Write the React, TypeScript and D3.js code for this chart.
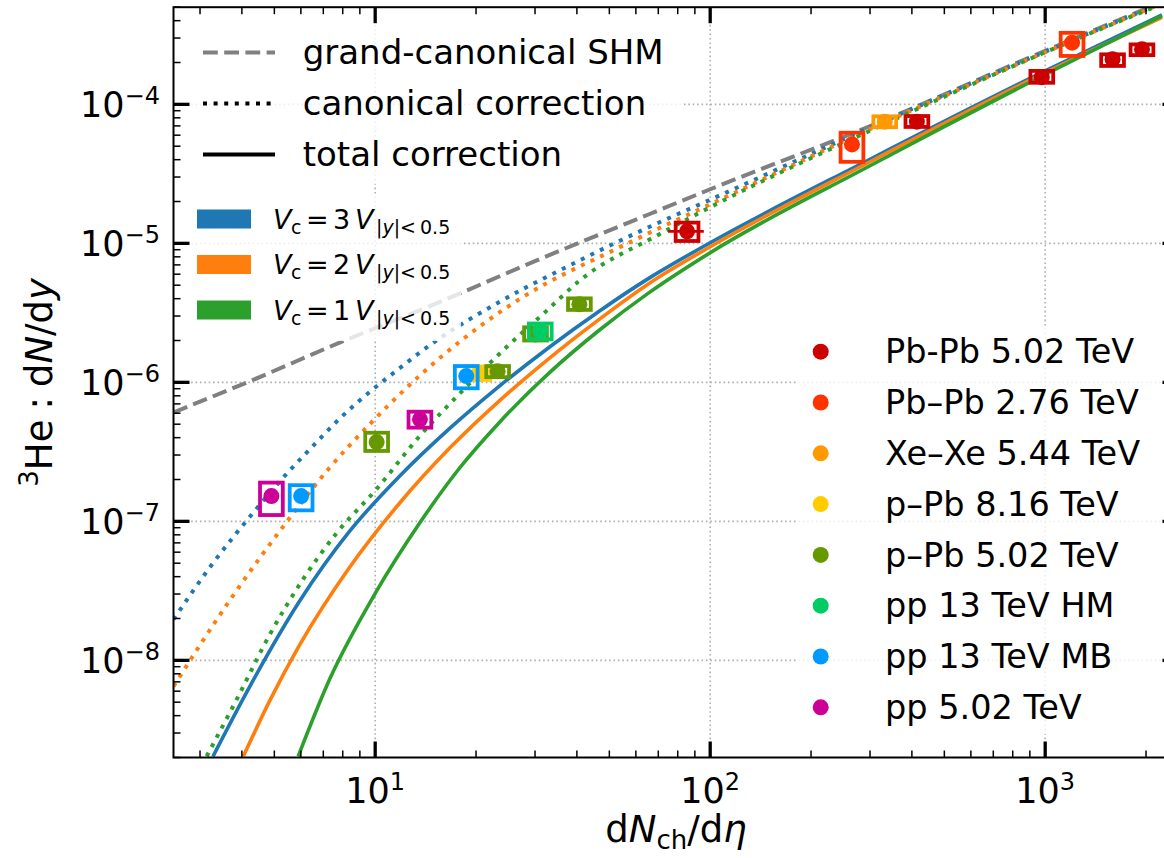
import React from "react";
import * as d3 from "d3";

// ---------------- data ----------------
const X_DOMAIN: [number, number] = [2.5, 2500];
const Y_DOMAIN: [number, number] = [2e-9, 5e-4];
const X_TICKS = [10, 100, 1000];
const X_TICK_EXP = ["1", "2", "3"];
const Y_TICKS = [1e-8, 1e-7, 1e-6, 1e-5, 1e-4];
const Y_TICK_EXP = ["\u22128", "\u22127", "\u22126", "\u22125", "\u22124"];

// grand-canonical SHM
const GC_SHM: [number, number][] = [
  [2.5, 6.08e-7], [4.23, 1.02e-6], [7.83, 1.93e-6], [15.0, 3.64e-6], [30.1, 7.48e-6],
  [65.7, 1.62e-5], [100, 2.45e-5], [299, 6.95e-5], [1000, 2.43e-4], [2232, 5.45e-4],
];
// canonical correction (dotted)
const CAN_VC3: [number, number][] = [
  [2.5, 1.97e-8], [3.21, 4.67e-8], [4.37, 1.19e-7], [5.25, 2.0e-7], [6.45, 3.39e-7],
  [7.83, 5.48e-7], [9.84, 8.91e-7], [11.56, 1.21e-6], [14.69, 1.88e-6], [23.48, 3.79e-6],
  [37.95, 6.92e-6], [65.7, 1.31e-5], [100, 2.06e-5], [299, 6.79e-5], [1000, 2.39e-4], [2232, 5.37e-4],
];
const CAN_VC2: [number, number][] = [
  [2.5, 6.5e-9], [3.68, 2.7e-8], [5.56, 1.06e-7], [7.31, 2.43e-7], [9.84, 5.27e-7],
  [15.91, 1.56e-6], [26.93, 3.96e-6], [53.5, 9.35e-6], [100, 1.91e-5], [299, 6.61e-5],
  [1000, 2.37e-4], [2232, 5.33e-4],
];
const CAN_VC1: [number, number][] = [
  [3.14, 2.04e-9], [3.86, 5.24e-9], [4.85, 1.54e-8], [6.09, 3.83e-8], [7.66, 8.2e-8],
  [10.08, 1.7e-7], [13.56, 4.09e-7], [18.05, 8.51e-7], [24.58, 1.78e-6], [32.34, 3.24e-6],
  [40.63, 5.36e-6], [70.37, 1.16e-5], [100, 1.82e-5], [299, 6.43e-5], [1000, 2.37e-4], [2232, 5.28e-4],
];
// total correction (solid)
const TOT_VC3: [number, number][] = [
  [3.28, 2.04e-9], [4.23, 6.53e-9], [5.95, 2.67e-8], [8.39, 8.49e-8], [11.82, 2.11e-7],
  [16.66, 4.64e-7], [23.48, 9.39e-7], [33.08, 1.79e-6], [46.63, 3.25e-6], [65.7, 5.62e-6],
  [100, 1.01e-5], [299, 4.01e-5], [1000, 1.74e-4], [2232, 4.4e-4],
];
const TOT_VC2: [number, number][] = [
  [4.04, 2.04e-9], [4.85, 5.15e-9], [5.95, 1.29e-8], [8.39, 4.67e-8], [11.82, 1.35e-7],
  [16.66, 3.35e-7], [23.48, 7.36e-7], [33.08, 1.49e-6], [46.63, 2.84e-6], [65.7, 5.15e-6],
  [100, 9.45e-6], [299, 3.85e-5], [1000, 1.69e-4], [2232, 4.23e-4],
];
const TOT_VC1: [number, number][] = [
  [5.89, 2.04e-9], [7.31, 7.3e-9], [10.08, 3.13e-8], [13.56, 9.68e-8], [17.84, 2.41e-7],
  [23.48, 5.15e-7], [33.08, 1.17e-6], [46.63, 2.37e-6], [65.7, 4.42e-6], [100, 8.57e-6],
  [299, 3.6e-5], [1000, 1.64e-4], [2232, 4.33e-4],
];

// measurements: x, y, systematic box [lo, hi]
type Pt = { x: number; y: number; lo: number; hi: number };
const PBPB_502: Pt[] = [
  { x: 85.3, y: 1.22e-5, lo: 1.04e-5, hi: 1.41e-5 },
  { x: 414, y: 7.51e-5, lo: 6.88e-5, hi: 8.24e-5 },
  { x: 977, y: 1.57e-4, lo: 1.43e-4, hi: 1.74e-4 },
  { x: 1589, y: 2.11e-4, lo: 1.89e-4, hi: 2.29e-4 },
  { x: 1945, y: 2.49e-4, lo: 2.26e-4, hi: 2.7e-4 },
];
const PBPB_502_XERR: [number, number][] = [[74.8, 95.7]];
const PBPB_276: Pt[] = [
  { x: 265, y: 5.15e-5, lo: 3.86e-5, hi: 6.25e-5 },
  { x: 1203, y: 2.78e-4, lo: 2.23e-4, hi: 3.27e-4 },
];
const XEXE_544: Pt[] = [{ x: 332, y: 7.51e-5, lo: 6.85e-5, hi: 8.2e-5 }];
const PPB_816: Pt[] = [{ x: 20.4, y: 1.17e-6, lo: 1.04e-6, hi: 1.3e-6 }];
const PPB_502: Pt[] = [
  { x: 10.1, y: 3.72e-7, lo: 3.21e-7, hi: 4.34e-7 },
  { x: 23.2, y: 1.2e-6, lo: 1.09e-6, hi: 1.31e-6 },
  { x: 30.1, y: 2.21e-6, lo: 2.0e-6, hi: 2.49e-6 },
  { x: 40.7, y: 3.64e-6, lo: 3.32e-6, hi: 4.02e-6 },
];
const PP_13_HM: Pt[] = [{ x: 31.1, y: 2.34e-6, lo: 2.04e-6, hi: 2.65e-6 }];
const PP_13_MB: Pt[] = [
  { x: 6.01, y: 1.52e-7, lo: 1.2e-7, hi: 1.82e-7 },
  { x: 18.7, y: 1.11e-6, lo: 9.06e-7, hi: 1.31e-6 },
];
const PP_502: Pt[] = [
  { x: 4.9, y: 1.52e-7, lo: 1.11e-7, hi: 1.9e-7 },
  { x: 13.6, y: 5.42e-7, lo: 4.72e-7, hi: 6.15e-7 },
];

const SERIES_NAMES = [
  "Pb-Pb 5.02 TeV", "Pb\u2013Pb 2.76 TeV", "Xe\u2013Xe 5.44 TeV", "p\u2013Pb 8.16 TeV",
  "p\u2013Pb 5.02 TeV", "pp 13 TeV HM", "pp 13 TeV MB", "pp 5.02 TeV",
];
const SERIES_COLORS = ["#cc0000", "#ff3300", "#ff9900", "#ffcc00", "#669900", "#00cc66", "#0099ff", "#cc0099"];
const SERIES_DATA = [PBPB_502, PBPB_276, XEXE_544, PPB_816, PPB_502, PP_13_HM, PP_13_MB, PP_502];

const STYLE_LABELS = ["grand-canonical SHM", "canonical correction", "total correction"];
const VC_VALUES = ["3", "2", "1"];
const VC_COLORS = ["#1f77b4", "#ff7f0e", "#2ca02c"];

// ---------------- layout ----------------
const W = 1164, H = 858;
const PL = 173.5, PR = 1178.5, PT = 7.2, PB = 757.5;
const FONT = "DejaVu Sans";
const BOX_F = Math.pow(10, 0.034);

export default function App() {
  const x = d3.scaleLog().domain(X_DOMAIN).range([PL, PR]);
  const y = d3.scaleLog().domain(Y_DOMAIN).range([PB, PT]);
  const line = d3
    .line<[number, number]>()
    .x((d) => x(d[0]))
    .y((d) => y(d[1]))
    .curve(d3.curveMonotoneX);

  const xMinor: number[] = [];
  for (let e = 0; e <= 3; e++)
    for (let k = 2; k <= 9; k++) {
      const v = k * Math.pow(10, e);
      if (v >= X_DOMAIN[0] && v <= X_DOMAIN[1]) xMinor.push(v);
    }
  const yMinor: number[] = [];
  for (let e = -9; e <= -4; e++)
    for (let k = 2; k <= 9; k++) {
      const v = k * Math.pow(10, e);
      if (v >= Y_DOMAIN[0] * 0.999 && v <= Y_DOMAIN[1] * 1.001) yMinor.push(v);
    }

  const DOT = "4 6.6";
  const curves = [
    { d: GC_SHM, c: "#808080", dash: "14.8 6.4", w: 4 },
    { d: CAN_VC3, c: VC_COLORS[0], dash: DOT, w: 4 },
    { d: TOT_VC3, c: VC_COLORS[0], dash: null, w: 3.6 },
    { d: CAN_VC2, c: VC_COLORS[1], dash: DOT, w: 4 },
    { d: TOT_VC2, c: VC_COLORS[1], dash: null, w: 3.6 },
    { d: CAN_VC1, c: VC_COLORS[2], dash: DOT, w: 4 },
    { d: TOT_VC1, c: VC_COLORS[2], dash: null, w: 3.6 },
  ];

  const gridColor = "#b0b0b0";

  return (
    <svg
      width={W}
      height={H}
      style={{ position: "absolute", left: 0, top: 0, background: "#fff" }}
      fontFamily={FONT}
    >
      <defs>
        <clipPath id="plotclip">
          <rect x={PL} y={PT} width={PR - PL} height={PB - PT} />
        </clipPath>
      </defs>
      <rect x={0} y={0} width={W} height={H} fill="#fff" />

      {/* grid */}
      <g stroke={gridColor} strokeWidth={1.6} strokeDasharray="1.6 2.8">
        {X_TICKS.map((v) => (
          <line key={"gx" + v} x1={x(v)} x2={x(v)} y1={PT} y2={PB} />
        ))}
        {Y_TICKS.map((v) => (
          <line key={"gy" + v} x1={PL} x2={PR} y1={y(v)} y2={y(v)} />
        ))}
      </g>

      {/* curves */}
      <g clipPath="url(#plotclip)" fill="none">
        {curves.map((c, i) => (
          <path
            key={"c" + i}
            d={line(c.d) || ""}
            stroke={c.c}
            strokeWidth={c.w}
            strokeDasharray={c.dash || undefined}
            strokeLinecap="butt"
          />
        ))}
      </g>

      {/* data points */}
      <g clipPath="url(#plotclip)">
        {SERIES_DATA.map((pts, si) => (
          <g key={"s" + si}>
            {si === 0 &&
              PBPB_502_XERR.map((e, ei) => (
                <line
                  key={"xe" + ei}
                  x1={x(e[0])}
                  x2={x(e[1])}
                  y1={y(pts[ei].y)}
                  y2={y(pts[ei].y)}
                  stroke={SERIES_COLORS[si]}
                  strokeWidth={2.8}
                />
              ))}
            {pts.map((p, pi) => (
              <g key={"p" + pi}>
                <rect
                  x={x(p.x / BOX_F)}
                  y={y(p.hi)}
                  width={x(p.x * BOX_F) - x(p.x / BOX_F)}
                  height={y(p.lo) - y(p.hi)}
                  fill="none"
                  stroke={SERIES_COLORS[si]}
                  strokeWidth={3.8}
                />
                <circle cx={x(p.x)} cy={y(p.y)} r={8} fill={SERIES_COLORS[si]} />
              </g>
            ))}
          </g>
        ))}
      </g>

      {/* legend 1: line styles */}
      <rect x={186} y={20} width={497} height={164} fill="#fff" fillOpacity={0.8} />
      {STYLE_LABELS.map((t, i) => {
        const cy = 52.5 + i * 51;
        return (
          <g key={"l1" + i}>
            <line
              x1={203}
              x2={275}
              y1={cy}
              y2={cy}
              stroke={i === 0 ? "#808080" : "#000"}
              strokeWidth={4}
              strokeDasharray={i === 0 ? "14.8 6.4" : i === 1 ? DOT : undefined}
            />
            <text x={302.7} y={cy + 11.5} fontSize={34}>
              {t}
            </text>
          </g>
        );
      })}

      {/* legend 2: Vc */}
      <rect x={186} y={195} width={275} height={146} fill="#fff" fillOpacity={0.8} />
      {VC_VALUES.map((v, i) => {
        const cy = 219 + i * 45.5;
        const b = cy + 9.5;
        const s = b + 5;
        return (
          <g key={"l2" + i}>
            <rect x={197} y={cy - 9.5} width={54} height={19} fill={VC_COLORS[i]} />
            <text x={273} y={b} fontSize={27} fontStyle="italic">V</text>
            <text x={291} y={s} fontSize={19}>c</text>
            <text x={306} y={b} fontSize={27}>=</text>
            <text x={333} y={b} fontSize={27}>{v}</text>
            <text x={355} y={b} fontSize={27} fontStyle="italic">V</text>
            <text x={376} y={s} fontSize={19}>
              |<tspan fontStyle="italic">y</tspan>|
            </text>
            <text x={400} y={s} fontSize={19}>&lt;</text>
            <text x={420} y={s} fontSize={19}>0.5</text>
          </g>
        );
      })}

      {/* legend 3: data */}
      <rect x={797} y={326} width={366} height={408} fill="#fff" fillOpacity={0.8} />
      {SERIES_NAMES.map((n, i) => {
        const cy = 351.7 + i * 50.8;
        return (
          <g key={"l3" + i}>
            <circle cx={820.7} cy={cy} r={8} fill={SERIES_COLORS[i]} />
            <text x={885} y={cy + 11.6} fontSize={33.5}>
              {n}
            </text>
          </g>
        );
      })}

      {/* spines */}
      <rect x={PL} y={PT} width={PR - PL} height={PB - PT} fill="none" stroke="#000" strokeWidth={2} />

      {/* ticks */}
      <g stroke="#000">
        {X_TICKS.map((v) => (
          <g key={"xt" + v} strokeWidth={3.3}>
            <line x1={x(v)} x2={x(v)} y1={PB} y2={PB - 16} />
            <line x1={x(v)} x2={x(v)} y1={PT} y2={PT + 16} />
          </g>
        ))}
        {xMinor.map((v) => (
          <g key={"xm" + v} strokeWidth={1.5}>
            <line x1={x(v)} x2={x(v)} y1={PB} y2={PB - 7} />
            <line x1={x(v)} x2={x(v)} y1={PT} y2={PT + 7} />
          </g>
        ))}
        {Y_TICKS.map((v) => (
          <g key={"yt" + v} strokeWidth={3.3}>
            <line x1={PL} x2={PL + 16} y1={y(v)} y2={y(v)} />
            <line x1={PR} x2={PR - 16} y1={y(v)} y2={y(v)} />
          </g>
        ))}
        {yMinor.map((v) => (
          <g key={"ym" + v} strokeWidth={1.5}>
            <line x1={PL} x2={PL + 7} y1={y(v)} y2={y(v)} />
            <line x1={PR} x2={PR - 7} y1={y(v)} y2={y(v)} />
          </g>
        ))}
      </g>

      {/* tick labels */}
      {X_TICKS.map((v, i) => (
        <text key={"xl" + v} x={x(v)} y={803} fontSize={35} textAnchor="middle">
          10<tspan fontSize={24} dy={-13}>{X_TICK_EXP[i]}</tspan>
        </text>
      ))}
      {Y_TICKS.map((v, i) => (
        <text key={"yl" + v} x={160} y={y(v) + 12.5} fontSize={35} textAnchor="end">
          10<tspan fontSize={24} dy={-13}>{Y_TICK_EXP[i]}</tspan>
        </text>
      ))}

      {/* axis labels */}
      <text x={(PL + PR) / 2} y={842} fontSize={37} textAnchor="middle">
        d<tspan fontStyle="italic">N</tspan>
        <tspan fontSize={26} dy={7}>ch</tspan>
        <tspan dy={-7}>/d</tspan>
        <tspan fontStyle="italic">η</tspan>
      </text>
      <text transform={`translate(52,${(PT + PB) / 2}) rotate(-90)`} fontSize={37} textAnchor="middle">
        <tspan fontSize={26} dy={-14}>3</tspan>
        <tspan dy={14}>He</tspan>
        <tspan dx={10}>:</tspan>
        <tspan dx={10}>d</tspan>
        <tspan fontStyle="italic">N</tspan>
        <tspan>/d</tspan>
        <tspan fontStyle="italic">y</tspan>
      </text>
    </svg>
  );
}
